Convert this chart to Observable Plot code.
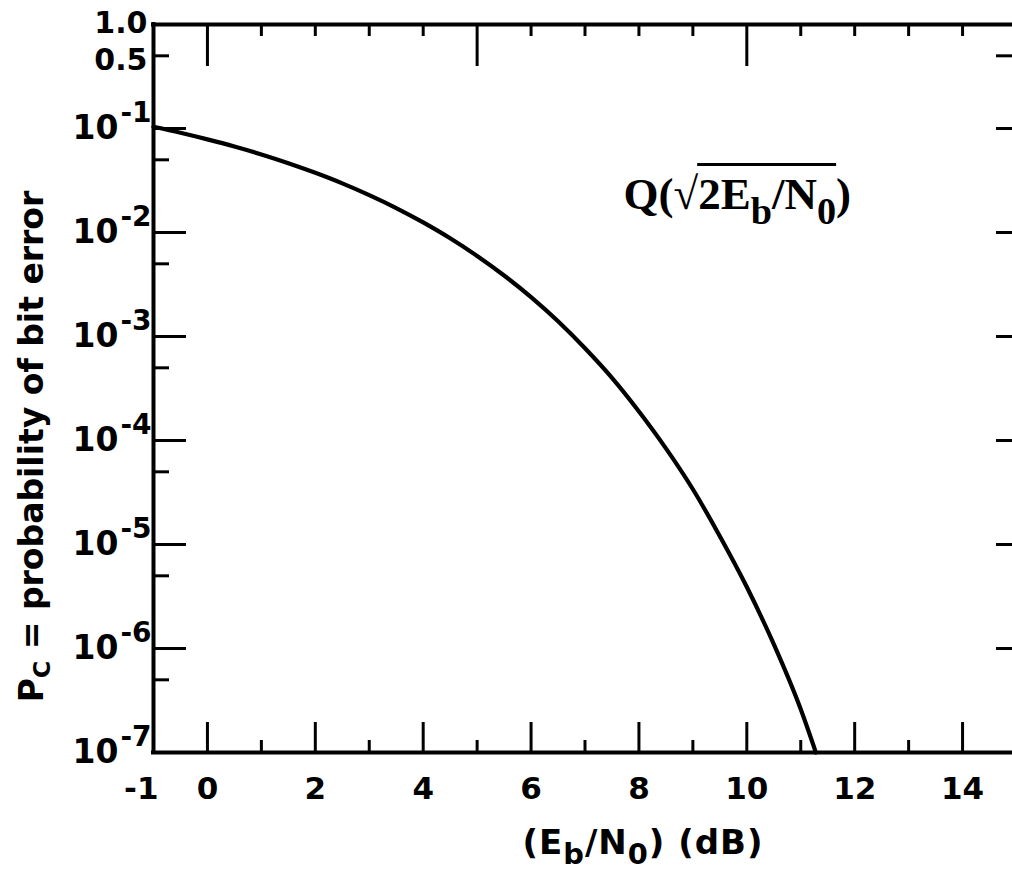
<!DOCTYPE html>
<html>
<head>
<meta charset="utf-8">
<script src="https://cdn.jsdelivr.net/npm/d3@7"></script>
<script src="https://cdn.jsdelivr.net/npm/@observablehq/plot@0.6"></script>
<style>
  html, body { margin: 0; padding: 0; background: #fff; overflow: hidden; }
</style>
</head>
<body>
<div id="chart"></div>
<script>
// ---- data ----
const ebn0 = [-1, -0.5, 0, 0.5, 1, 1.5, 2, 2.5, 3, 3.5, 4, 4.5, 5, 5.5, 6, 6.5, 7, 7.5, 8, 8.5, 9, 9.5, 10, 10.5, 11, 11.28];
const pBit = [0.104, 0.091, 0.0786, 0.0671, 0.0563, 0.0464, 0.0375, 0.0297, 0.0229, 0.0172, 0.0125, 0.0088,
              0.00595, 0.00386, 0.00239, 0.0014, 7.7e-4, 4.0e-4, 1.9e-4, 8.4e-5, 3.4e-5, 1.2e-5, 3.9e-6, 1.1e-6, 2.6e-7, 1.0e-7];

const xTickLabels = [0, 2, 4, 6, 8, 10, 12, 14];
const xFirstLabel = [-1];
const xMajorTicks = [0, 2, 4, 6, 8, 10, 12, 14];
const xMinorTicks = [1, 3, 5, 7, 9, 11, 13];
const topLongTicks = [0, 5, 10];
const topShortTicks = [1, 2, 3, 4, 6, 7, 8, 9, 11, 12, 13, 14];

const yDecadeTicks = [1e-1, 1e-2, 1e-3, 1e-4, 1e-5, 1e-6];
const yFiveTicks = [0.5, 5e-2, 5e-3, 5e-4, 5e-5, 5e-6, 5e-7];
const yDecadeLabelValues = [1e-1, 1e-2, 1e-3, 1e-4, 1e-5, 1e-6, 1e-7];
const yDecadeExponents = ["-1", "-2", "-3", "-4", "-5", "-6", "-7"];
const yTopLabelValue = [1.0];
const yTopLabel = ["1.0"];
const yHalfLabelValue = [0.5];
const yHalfLabel = ["0.5"];
const yRightTicks = [0.5, 1e-1, 1e-2, 1e-3, 1e-4, 1e-5, 1e-6];

const xTitle = "(E_{b}/N_{0}) (dB)";
const yTitle = "P_{C} = probability of bit error";
const curveLabel = "Q(√2E_{b}/N_{0})";

// ---- layout ----
const W = 1012, H = 880, mL = 153, mR = 0, mT = 24, mB = 128;
const frameW = W - mL - mR, frameH = H - mT - mB;
const sans = "DejaVu Sans, sans-serif";
const serif = "Liberation Serif, Times New Roman, serif";

const curve = ebn0.map((x, i) => ({x, p: pBit[i]}));

const chart = Plot.plot({
  width: W, height: H,
  marginLeft: mL, marginRight: mR, marginTop: mT, marginBottom: mB,
  style: {fontFamily: sans, background: "white", overflow: "hidden"},
  x: {domain: [-1, 15], range: [mL, 1016], axis: null},
  y: {type: "log", domain: [1e-7, 1], axis: null},
  marks: [
    // axis lines
    Plot.ruleX([-1], {x: d => d, stroke: "black", strokeWidth: 4, strokeLinecap: "square"}),
    Plot.ruleY([1, 1e-7], {y: d => d, stroke: "black", strokeWidth: 4, strokeLinecap: "square"}),
    // bottom ticks
    Plot.ruleX(xMajorTicks, {x: d => d, insetTop: frameH - 30, stroke: "black", strokeWidth: 3}),
    Plot.ruleX(xMinorTicks, {x: d => d, insetTop: frameH - 12, stroke: "black", strokeWidth: 3}),
    // top ticks
    Plot.ruleX(topLongTicks, {x: d => d, insetBottom: frameH - 42, stroke: "black", strokeWidth: 3}),
    Plot.ruleX(topShortTicks, {x: d => d, insetBottom: frameH - 12, stroke: "black", strokeWidth: 3}),
    // left ticks
    Plot.ruleY(yDecadeTicks, {y: d => d, insetRight: frameW - 33, stroke: "black", strokeWidth: 3}),
    Plot.ruleY(yFiveTicks, {y: d => d, insetRight: frameW - 16, stroke: "black", strokeWidth: 3}),
    // right ticks (the right axis lies just beyond the picture)
    Plot.ruleY(yRightTicks, {y: d => d, insetLeft: frameW - 16, stroke: "black", strokeWidth: 3}),
    // curve
    Plot.line(curve, {x: "x", y: "p", curve: "monotone-x", stroke: "black", strokeWidth: 4.2}),
    // x tick labels
    Plot.text(xTickLabels, {x: d => d, text: d => String(d), frameAnchor: "bottom", dy: 46, lineAnchor: "bottom",
      textAnchor: "middle", fontSize: 31, fontWeight: "bold", fill: "black"}),
    Plot.text(xFirstLabel, {x: d => d, text: d => String(d), frameAnchor: "bottom", dy: 46, dx: 5, lineAnchor: "bottom",
      textAnchor: "end", fontSize: 31, fontWeight: "bold", fill: "black"}),
    // y tick labels
    Plot.text(yDecadeLabelValues, {y: d => d, text: () => "10", frameAnchor: "left", dx: -35, textAnchor: "end",
      lineAnchor: "middle", fontSize: 33, fontWeight: "bold", fill: "black"}),
    Plot.text(yDecadeLabelValues, {y: d => d, text: (d, i) => yDecadeExponents[i], frameAnchor: "left", dx: -33, dy: -15,
      textAnchor: "start", lineAnchor: "middle", fontSize: 28, fontWeight: "bold", fill: "black"}),
    Plot.text(yTopLabelValue, {y: d => d, text: (d, i) => yTopLabel[i], frameAnchor: "left", dx: -6, dy: -1,
      textAnchor: "end", lineAnchor: "middle", fontSize: 30, fontWeight: "bold", fill: "black"}),
    Plot.text(yHalfLabelValue, {y: d => d, text: (d, i) => yHalfLabel[i], frameAnchor: "left", dx: -6, dy: 5,
      textAnchor: "end", lineAnchor: "middle", fontSize: 30, fontWeight: "bold", fill: "black"}),
    // titles
    Plot.text([yTitle], {text: d => d, frameAnchor: "left", rotate: -90, dx: -111, dy: 58, textAnchor: "middle",
      lineAnchor: "bottom", fontSize: 33, fontWeight: "bold", fill: "black"}),
    Plot.text([xTitle], {text: d => d, frameAnchor: "bottom", dx: 60, dy: 101, textAnchor: "middle", lineAnchor: "bottom",
      fontSize: 34, fontWeight: "bold", fill: "black"}),
    // curve annotation
    Plot.text([curveLabel], {text: d => d, frameAnchor: "top-left", dx: 470, dy: 184, textAnchor: "start",
      lineAnchor: "bottom", fontFamily: serif, fontSize: 45, fontWeight: "bold", fill: "black"})
  ]
});

document.getElementById("chart").append(chart);

// ---- subscripts as tspans ----
const rich = [
  {match: curveLabel, scale: 0.85, shift: 15, overline: [3, 8]},
  {match: xTitle, scale: 0.85, shift: 10, spacing: 1},
  {match: yTitle, scale: 0.72, shift: 7}
];
d3.select(chart).selectAll("text").each(function () {
  const t = this.textContent;
  const r = rich.find(r => r.match === t);
  if (!r) return;
  const parts = [];
  t.replace(/_\{([^}]*)\}|[^_]+/g, (m, sub) => {
    parts.push(sub !== undefined ? {s: sub, sub: true} : {s: m, sub: false});
    return m;
  });
  const el = d3.select(this);
  el.text(null);
  if (r.spacing) el.attr("letter-spacing", r.spacing);
  let down = false;
  for (const p of parts) {
    const ts = el.append("tspan").text(p.s);
    if (p.sub) { ts.attr("dy", r.shift).style("font-size", `${r.scale}em`); down = true; }
    else if (down) { ts.attr("dy", -r.shift); down = false; }
  }
  if (r.overline) {
    const a = this.getExtentOfChar(r.overline[0]);
    const b = this.getExtentOfChar(r.overline[1]);
    const yLine = -44;
    d3.select(this.parentNode).append("line")
      .attr("transform", this.getAttribute("transform"))
      .attr("x1", a.x - 1).attr("x2", b.x + b.width)
      .attr("y1", yLine).attr("y2", yLine)
      .attr("stroke", "black").attr("stroke-width", 3);
  }
});
</script>
</body>
</html>
